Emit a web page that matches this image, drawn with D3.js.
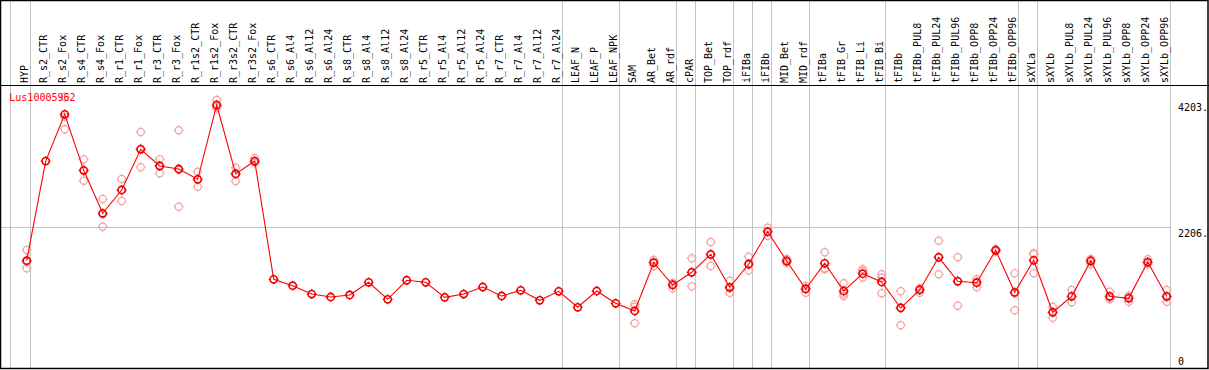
<!DOCTYPE html>
<html>
<head>
<meta charset="utf-8">
<script src="https://cdn.jsdelivr.net/npm/d3@7"></script>
<style>
  html, body { margin: 0; padding: 0; background: #fff; }
  svg { display: block; }
  text { font-family: "DejaVu Sans Mono", monospace; font-size: 10px; }
</style>
</head>
<body>
<svg id="chart" width="1209" height="370"></svg>
<script>
const geneName = "Lus10005962";
const categories = ["HYP","R_s2_CTR","R_s2_Fox","R_s4_CTR","R_s4_Fox","R_r1_CTR","R_r1_Fox","R_r3_CTR","R_r3_Fox","R_r1s2_CTR","R_r1s2_Fox","R_r3s2_CTR","R_r3s2_Fox","R_s6_CTR","R_s6_Al4","R_s6_Al12","R_s6_Al24","R_s8_CTR","R_s8_Al4","R_s8_Al12","R_s8_Al24","R_r5_CTR","R_r5_Al4","R_r5_Al12","R_r5_Al24","R_r7_CTR","R_r7_Al4","R_r7_Al12","R_r7_Al24","LEAF_N","LEAF_P","LEAF_NPK","SAM","AR_Bet","AR_rdf","cPAR","TOP_Bet","TOP_rdf","iFIBa","iFIBb","MID_Bet","MID_rdf","tFIBa","tFIB_Gr","tFIB_Li","tFIB_Bi","tFIBb","tFIBb_PUL8","tFIBb_PUL24","tFIBb_PUL96","tFIBb_OPP8","tFIBb_OPP24","tFIBb_OPP96","sXYLa","sXYLb","sXYLb_PUL8","sXYLb_PUL24","sXYLb_PUL96","sXYLb_OPP8","sXYLb_OPP24","sXYLb_OPP96"];
const means = [1684,3263,4003,3116,2435,2804,3449,3184,3137,2974,4151,3058,3263,1389,1288,1156,1109,1141,1342,1072,1374,1342,1104,1156,1267,1125,1215,1057,1199,946,1204,1009,887,1652,1299,1500,1785,1263,1632,2143,1679,1236,1643,1204,1478,1347,935,1220,1738,1358,1335,1849,1183,1690,867,1120,1679,1120,1088,1663,1120];
const rep1 = [1854,null,4277,3290,2661,2978,3723,3290,3750,3094,4230,3157,3306,null,null,null,null,null,null,null,null,null,null,null,null,null,null,null,null,null,null,null,993,1695,1247,1722,1980,1367,1747,2207,1711,1283,1817,1326,1548,1469,1199,1177,2001,1738,1389,1870,1484,1801,955,1220,1711,1193,1104,1706,1220];
const rep2 = [1564,null,3766,2951,2223,2630,3164,3069,2539,2856,4098,2947,3237,null,null,null,null,null,null,null,null,null,null,null,null,null,null,null,null,null,null,null,955,1600,1331,1278,1600,1177,1532,2080,1648,1177,1548,1125,1521,1415,661,1251,1469,971,1263,1849,898,1484,781,1025,1632,1072,1034,1632,1034];
const rep3 = [1668,null,3966,3107,2421,2804,3460,3193,3122,2972,4125,3070,3246,null,null,null,null,null,null,null,null,null,null,null,null,null,null,null,null,null,null,null,692,1661,1319,1500,1775,1245,1617,2142,1678,1248,1564,1161,1416,1168,945,1232,1744,1365,1353,1828,1167,1785,865,1115,1694,1095,1126,1651,1106];
const separatorsAfter = [0,28,31,34,35,37,38,39,41,45,52,53,60];
const yTicks = [4203, 2206, 0];
const gridValues = [2206];

const W = 1209, H = 370;
const headerBottom = 85, plotBottom = 368;
const svg = d3.select("#chart");

const x = d3.scaleLinear().domain([0, categories.length - 1]).range([26.7, 1166.7]);
const y = d3.scaleLinear().domain([0, 4203]).range([367, 101.7]);
const gridRight = Math.floor(x(categories.length - 1) + 4) + 0.5;

// vertical separators
const sepX = [Math.floor(x(0) - 16) + 0.5].concat(separatorsAfter.map(i => Math.floor(x(i) + 4) + 0.5));
svg.append("g").selectAll("line").data(sepX).join("line")
  .attr("x1", d => d).attr("x2", d => d)
  .attr("y1", 0).attr("y2", plotBottom)
  .attr("stroke", "#c4c4c4").attr("stroke-width", 1);

// horizontal grid
svg.append("g").selectAll("line").data(gridValues).join("line")
  .attr("x1", 0).attr("x2", gridRight)
  .attr("y1", d => Math.floor(y(d)) + 0.5).attr("y2", d => Math.floor(y(d)) + 0.5)
  .attr("stroke", "#c4c4c4").attr("stroke-width", 1);

// frame
svg.append("rect").attr("x", 0.5).attr("y", 0.5).attr("width", W - 1.5).attr("height", plotBottom)
  .attr("fill", "none").attr("stroke", "#000").attr("stroke-width", 1.5);
svg.append("line").attr("x1", 0).attr("x2", W).attr("y1", headerBottom + 0.5).attr("y2", headerBottom + 0.5)
  .attr("stroke", "#000").attr("stroke-width", 1.2);

// category labels
svg.append("g").selectAll("text").data(categories).join("text")
  .attr("transform", (d, i) => `translate(${x(i) + 1.6},${headerBottom - 2}) rotate(-90)`)
  .attr("text-anchor", "start")
  .attr("fill", "#000")
  .text(d => d);

// y tick labels
svg.append("g").selectAll("text").data(yTicks).join("text")
  .attr("x", 1178)
  .attr("y", d => d === 0 ? 365 : y(d) + 9)
  .attr("fill", "#000")
  .text(d => d === 0 ? "0" : d + ".");

function marker(g, color, sw) {
  g.append("circle").attr("r", 3.6).attr("fill", "none").attr("stroke", color).attr("stroke-width", sw);
  g.append("path").attr("d", "M0,-5V-3.6M0,3.6V5M-5,0H-3.6M3.6,0H5")
    .attr("stroke", color).attr("stroke-width", 1);
}

// replicate points
const reps = [];
[rep1, rep2, rep3].forEach(arr => arr.forEach((v, i) => { if (v !== null) reps.push({i, v}); }));
svg.append("g").selectAll("g").data(reps).join("g")
  .attr("transform", d => `translate(${x(d.i)},${y(d.v)})`)
  .each(function() { marker(d3.select(this), "#f2a0a0", 1.2); });

// mean line
const line = d3.line().x((d, i) => x(i)).y(d => y(d));
svg.append("path").datum(means).attr("d", line)
  .attr("fill", "none").attr("stroke", "#ff0000").attr("stroke-width", 1.1);

// mean markers
svg.append("g").selectAll("g").data(means).join("g")
  .attr("transform", (d, i) => `translate(${x(i)},${y(d)})`)
  .each(function() { marker(d3.select(this), "#ee0000", 1.6); });

// gene label
svg.append("text").attr("x", 9.3).attr("y", 100.5).attr("fill", "#ff0000").text(geneName);
</script>
</body>
</html>
